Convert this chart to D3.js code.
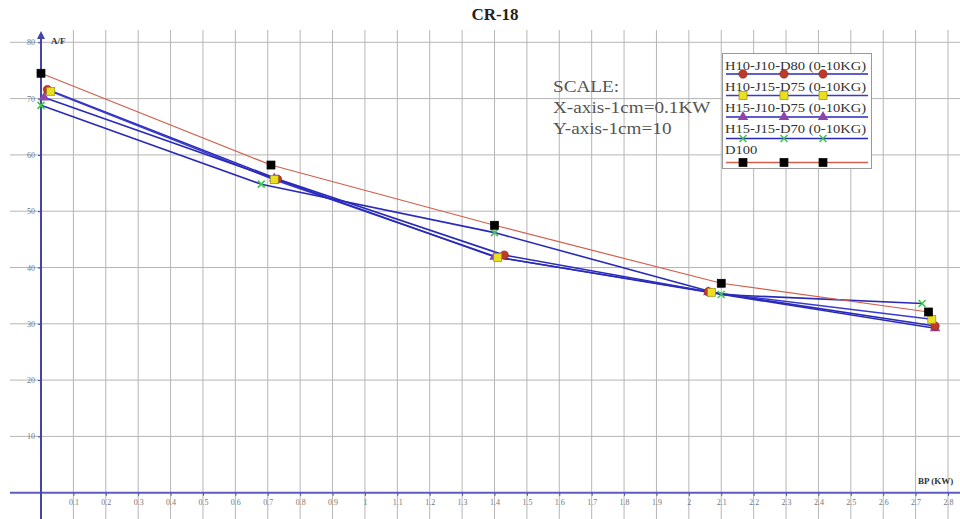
<!DOCTYPE html>
<html>
<head>
<meta charset="utf-8">
<script src="https://cdn.jsdelivr.net/npm/d3@7"></script>
<style>
  html, body { margin: 0; padding: 0; background: #fff; }
  svg { display: block; }
</style>
</head>
<body>
<svg id="chart" width="960" height="519"></svg>
<script>
// ---- data ----
const title = "CR-18";
const xTicks = [0.1,0.2,0.3,0.4,0.5,0.6,0.7,0.8,0.9,1,1.1,1.2,1.3,1.4,1.5,1.6,1.7,1.8,1.9,2,2.1,2.2,2.3,2.4,2.5,2.6,2.7,2.8];
const yTicks = [10,20,30,40,50,60,70,80];
const seriesNames = ["H10-J10-D80 (0-10KG)", "H10-J15-D75 (0-10KG)", "H15-J10-D75 (0-10KG)", "H15-J15-D70 (0-10KG)", "D100"];
const h10j10d80X = [0.02, 0.73, 1.43, 2.06, 2.76];
const h10j10d80Y = [71.6, 55.7, 42.2, 35.7, 29.6];
const h10j15d75X = [0.03, 0.72, 1.41, 2.07, 2.75];
const h10j15d75Y = [71.3, 55.6, 41.8, 35.6, 30.8];
const h15j10d75X = [0.01, 0.72, 1.40, 2.06, 2.76];
const h15j10d75Y = [70.2, 55.8, 41.9, 35.6, 29.2];
const h15j15d70X = [0.00, 0.68, 1.40, 2.10, 2.72];
const h15j15d70Y = [68.8, 54.8, 46.2, 35.2, 33.6];
const d100X = [0.00, 0.71, 1.40, 2.10, 2.74];
const d100Y = [74.5, 58.2, 47.5, 37.2, 32.1];
const scaleLines = ["SCALE:", "X-axis-1cm=0.1KW", "Y-axis-1cm=10"];

// ---- setup ----
const svg = d3.select("#chart");
const x = d3.scaleLinear().domain([0, 2.8]).range([41, 948]);
const y = d3.scaleLinear().domain([0, 80]).range([492.7, 42.3]);
const axisColor = "#4545a8";
const serif = "'Liberation Serif', 'DejaVu Serif', serif";

const series = [
  {name: seriesNames[0], xs: h10j10d80X, ys: h10j10d80Y, line: "#2a2ab8", marker: "circle", fill: "#c0392b"},
  {name: seriesNames[1], xs: h10j15d75X, ys: h10j15d75Y, line: "#3a3ad0", marker: "square", fill: "#e8e020"},
  {name: seriesNames[2], xs: h15j10d75X, ys: h15j10d75Y, line: "#2a2ab8", marker: "triangle", fill: "#8e44ad"},
  {name: seriesNames[3], xs: h15j15d70X, ys: h15j15d70Y, line: "#2a2ab8", marker: "cross", fill: "#3cc84a"},
  {name: seriesNames[4], xs: d100X, ys: d100Y, line: "#d0604c", marker: "square", fill: "#000000"}
];

function stretch(sel, f) {
  sel.each(function () {
    const w = this.getComputedTextLength();
    d3.select(this).attr("textLength", w * f).attr("lengthAdjust", "spacingAndGlyphs");
  });
}

// ---- grid ----
const grid = svg.append("g");
grid.selectAll("line.v").data(xTicks).join("line")
  .attr("x1", d => x(d)).attr("x2", d => x(d))
  .attr("y1", 30).attr("y2", 519)
  .attr("stroke", "#b6b6b6").attr("stroke-width", 1);
grid.selectAll("line.h").data(yTicks).join("line")
  .attr("x1", 10).attr("x2", 960)
  .attr("y1", d => y(d)).attr("y2", d => y(d))
  .attr("stroke", "#b6b6b6").attr("stroke-width", 1);

// ---- axes ----
const fmt = d => String(+d.toFixed(1));
const xAxis = svg.append("g").attr("transform", `translate(0,${y(0)})`)
  .call(d3.axisBottom(x).tickValues(xTicks).tickFormat(fmt).tickSize(3).tickPadding(4));
xAxis.select(".domain").remove();
xAxis.selectAll(".tick line").attr("stroke", axisColor);
xAxis.selectAll(".tick text").attr("fill", "#777").attr("font-size", 8).attr("font-family", serif);

const yAxis = svg.append("g").attr("transform", `translate(${x(0)},0)`)
  .call(d3.axisLeft(y).tickValues(yTicks).tickSize(3).tickPadding(3));
yAxis.select(".domain").remove();
yAxis.selectAll(".tick line").attr("stroke", axisColor);
yAxis.selectAll(".tick text").attr("fill", "#777").attr("font-size", 8).attr("font-family", serif);

// axis lines
svg.append("line").attr("x1", 10).attr("x2", 960).attr("y1", y(0)).attr("y2", y(0))
  .attr("stroke", "#5c5cc0").attr("stroke-width", 2);
svg.append("line").attr("x1", x(0)).attr("x2", x(0)).attr("y1", 36).attr("y2", 519)
  .attr("stroke", axisColor).attr("stroke-width", 2);
svg.append("path")
  .attr("d", `M${x(0)},31 L${x(0) - 4},39 L${x(0) + 4},39 Z`)
  .attr("fill", axisColor);

// axis titles
svg.append("text").attr("x", 51).attr("y", 44).text("A/F")
  .attr("font-family", serif).attr("font-weight", "bold").attr("font-size", 9).attr("fill", "#333");
svg.append("text").attr("x", 918).attr("y", 484).text("BP (KW)")
  .attr("font-family", serif).attr("font-weight", "bold").attr("font-size", 9).attr("fill", "#333");

// title
svg.append("text").attr("x", 495).attr("y", 20).attr("text-anchor", "middle").text(title)
  .attr("font-family", serif).attr("font-weight", "bold").attr("font-size", 17).attr("fill", "#222");

// scale note
svg.append("g").selectAll("text").data(scaleLines).join("text")
  .attr("x", 553).attr("y", (d, i) => 92 + i * 21).text(d => d)
  .attr("font-family", serif).attr("font-size", 16).attr("fill", "#555")
  .call(stretch, 1.2);

// ---- markers ----
function drawMarker(g, m, fill, cx, cy) {
  if (m === "circle") {
    g.append("circle").attr("cx", cx).attr("cy", cy).attr("r", 4.2)
      .attr("fill", fill).attr("stroke", "#7a2a10").attr("stroke-width", 0.6);
  } else if (m === "square") {
    const s = 8;
    g.append("rect").attr("x", cx - s / 2).attr("y", cy - s / 2).attr("width", s).attr("height", s)
      .attr("fill", fill).attr("stroke", fill === "#000000" ? "#000" : "#9a8a10").attr("stroke-width", 0.7);
  } else if (m === "triangle") {
    g.append("path").attr("d", d3.symbol(d3.symbolTriangle, 48)())
      .attr("transform", `translate(${cx},${cy})`).attr("fill", fill);
  } else if (m === "cross") {
    g.append("path").attr("d", `M${cx - 3.5},${cy - 3.5}L${cx + 3.5},${cy + 3.5}M${cx - 3.5},${cy + 3.5}L${cx + 3.5},${cy - 3.5}`)
      .attr("stroke", fill).attr("stroke-width", 1.6);
  }
}

// ---- series lines ----
const lineGen = d3.line().x(d => x(d[0])).y(d => y(d[1]));
const plot = svg.append("g");
series.forEach(s => {
  const pts = s.xs.map((v, i) => [v, s.ys[i]]);
  plot.append("path").datum(pts).attr("d", lineGen)
    .attr("fill", "none").attr("stroke", s.line)
    .attr("stroke-width", s.name === "D100" ? 1.2 : 1.6);
});
[3, 2, 0, 1, 4].forEach(k => {
  const s = series[k];
  const g = plot.append("g");
  s.xs.forEach((v, i) => drawMarker(g, s.marker, s.fill, x(v), y(s.ys[i])));
});

// ---- legend ----
const leg = svg.append("g");
leg.append("rect").attr("x", 722.5).attr("y", 53.5).attr("width", 149).attr("height", 115)
  .attr("fill", "#fff").attr("stroke", "#999").attr("stroke-width", 1);
const legMarkX = [743, 784, 823];
series.forEach((s, i) => {
  const ty = 70 + i * 21;
  const ly = i === 4 ? 162.5 : 74 + i * 21.5;
  leg.append("line").attr("x1", 726).attr("x2", 868).attr("y1", ly).attr("y2", ly)
    .attr("stroke", s.line).attr("stroke-width", 1.6);
  legMarkX.forEach(mx => drawMarker(leg, s.marker, s.fill, mx, ly));
  leg.append("text").attr("x", 725).attr("y", ty).text(s.name)
    .attr("font-family", serif).attr("font-size", 13).attr("fill", "#333")
    .call(stretch, 1.12);
});
</script>
</body>
</html>
